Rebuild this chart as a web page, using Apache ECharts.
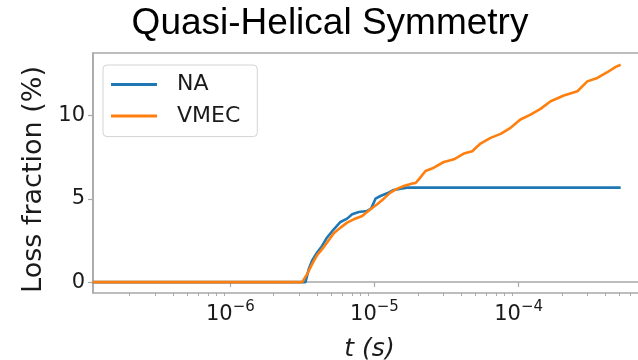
<!DOCTYPE html>
<html>
<head>
<meta charset="utf-8">
<script src="https://cdn.jsdelivr.net/npm/echarts@6/dist/echarts.min.js"></script>
<style>
  html, body { margin: 0; padding: 0; background: #fff; }
  #chart { width: 638px; height: 360px; }
</style>
</head>
<body>
<div id="chart"></div>
<script>
// Particle loss fraction (%) versus time (s), near-axis (NA) and VMEC fields
const seriesNames = ['NA', 'VMEC'];

const timeNA = [1.11e-7, 3.32e-6, 3.50e-6, 3.69e-6, 4.00e-6, 4.33e-6, 4.69e-6, 5.22e-6,
  5.81e-6, 6.46e-6, 7.00e-6, 7.78e-6, 8.89e-6, 9.48e-6, 1.017e-5, 1.10e-5, 1.225e-5,
  1.36e-5, 1.52e-5, 1.69e-5, 5.11e-4];
const lossNA = [0, 0, 0.78, 1.28, 1.78, 2.17, 2.68, 3.17,
  3.61, 3.81, 4.07, 4.21, 4.27, 4.41, 5.01, 5.17, 5.33,
  5.53, 5.61, 5.67, 5.67];

const timeVMEC = [1.11e-7, 3.15e-6, 3.41e-6, 3.69e-6, 4.00e-6, 4.33e-6, 4.69e-6, 5.22e-6,
  5.81e-6, 6.46e-6, 7.18e-6, 8.22e-6, 9.38e-6, 1.045e-5, 1.16e-5, 1.29e-5, 1.44e-5,
  1.60e-5, 1.83e-5, 1.93e-5, 2.03e-5, 2.26e-5, 2.58e-5, 3.03e-5, 3.56e-5, 4.17e-5,
  4.77e-5, 5.44e-5, 6.39e-5, 7.50e-5, 8.80e-5, 1.03e-4, 1.21e-4, 1.42e-4, 1.67e-4,
  2.06e-4, 2.56e-4, 3.00e-4, 3.52e-4, 4.13e-4, 4.72e-4, 5.11e-4];
const lossVMEC = [0, 0, 0.48, 1.08, 1.62, 1.98, 2.38, 2.93,
  3.27, 3.57, 3.77, 3.97, 4.37, 4.67, 5.01, 5.37, 5.61,
  5.77, 5.92, 5.95, 6.17, 6.67, 6.87, 7.21, 7.37, 7.72,
  7.86, 8.32, 8.66, 8.90, 9.26, 9.76, 10.06, 10.40, 10.86,
  11.20, 11.46, 12.05, 12.26, 12.60, 12.92, 13.05];

// Axis ticks
const xMajorTicks = [1e-6, 1e-5, 1e-4];
const yTicks = [0, 5, 10];

// Axis limits
const xMin = 1.114e-7;
const xMax = 7.66e-4;
const yMin = -0.655;
const yMax = 13.755;

// Minor log ticks at 2..9 times each decade
const xMinorTicks = [];
for (let d = -7; d <= -4; d++) {
  for (let k = 2; k <= 9; k++) {
    const v = k * Math.pow(10, d);
    if (v > xMin && v < xMax) xMinorTicks.push(v);
  }
}

const pairs = (xs, ys) => xs.map((x, i) => [x, ys[i]]);

const spine = '#a8a8a8';
const textColor = '#1a1a1a';
const tickFont = 'DejaVu Sans';

const chart = echarts.init(document.getElementById('chart'), null, { renderer: 'canvas' });

chart.setOption({
  animation: false,
  backgroundColor: '#fff',
  title: {
    text: 'Quasi-Helical Symmetry',
    left: 330,
    textAlign: 'center',
    top: 3,
    padding: 0,
    textStyle: {
      fontFamily: 'Liberation Sans',
      fontSize: 37,
      fontWeight: 'normal',
      color: '#000',
      lineHeight: 42
    }
  },
  grid: {
    left: 93,
    top: 53,
    width: 553,
    height: 240,
    outerBoundsMode: 'none',
    containLabel: false,
    show: true,
    borderColor: spine,
    borderWidth: 1.5,
    backgroundColor: 'transparent'
  },
  legend: {
    orient: 'vertical',
    left: 103,
    top: 65,
    data: seriesNames,
    icon: 'rect',
    itemWidth: 46,
    itemHeight: 3,
    itemGap: 9.6,
    padding: [8.5, 17, 9.5, 8],
    borderColor: '#d4d4d4',
    borderWidth: 1,
    borderRadius: 4,
    backgroundColor: 'rgba(255,255,255,0.85)',
    textStyle: {
      fontFamily: tickFont,
      fontSize: 22,
      lineHeight: 22,
      color: textColor,
      padding: [0, 0, 0, 15]
    }
  },
  xAxis: [
    {
      type: 'log',
      logBase: 10,
      min: xMin,
      max: xMax,
      position: 'bottom',
      axisLine: { show: true, lineStyle: { color: spine, width: 1.5 } },
      axisTick: { show: true, customValues: xMajorTicks, length: 5, lineStyle: { color: spine, width: 1.2 } },
      axisLabel: {
        customValues: xMajorTicks,
        margin: 7,
        formatter: (v) => {
          const e = Math.round(Math.log10(v));
          return '{b|10}{e|' + (e < 0 ? '\u2212' + (-e) : e) + '}';
        },
        rich: {
          b: { fontFamily: tickFont, fontSize: 21, lineHeight: 30, color: textColor },
          e: { fontFamily: tickFont, fontSize: 15, lineHeight: 15, verticalAlign: 'top', color: textColor }
        }
      },
      splitLine: { show: false },
      name: 't (s)',
      nameLocation: 'middle',
      nameGap: 44,
      nameTextStyle: {
        fontFamily: tickFont,
        fontStyle: 'italic',
        fontSize: 25,
        color: textColor
      }
    },
    {
      type: 'log',
      logBase: 10,
      min: xMin,
      max: xMax,
      position: 'bottom',
      axisLine: { show: false },
      axisTick: { show: true, customValues: xMinorTicks, length: 3, lineStyle: { color: spine, width: 1 } },
      axisLabel: { show: false },
      splitLine: { show: false }
    }
  ],
  yAxis: {
    type: 'value',
    min: yMin,
    max: yMax,
    axisLine: { show: true, lineStyle: { color: spine, width: 1.5 } },
    axisTick: { show: true, customValues: yTicks, length: 5, lineStyle: { color: spine, width: 1.2 } },
    axisLabel: {
      customValues: yTicks,
      margin: 8,
      fontFamily: tickFont,
      fontSize: 21,
      color: textColor
    },
    splitLine: { show: false },
    name: 'Loss fraction (%)',
    nameLocation: 'middle',
    nameRotate: 90,
    nameGap: 42,
    nameTextStyle: {
      fontFamily: tickFont,
      fontSize: 27,
      color: textColor,
      padding: [0, 13, 0, 0]
    }
  },
  series: [
    {
      name: seriesNames[0],
      type: 'line',
      xAxisIndex: 0,
      data: pairs(timeNA, lossNA),
      showSymbol: false,
      symbol: 'none',
      color: '#1f77b4',
      lineStyle: { width: 2.6, color: '#1f77b4' }
    },
    {
      name: seriesNames[1],
      type: 'line',
      xAxisIndex: 0,
      data: pairs(timeVMEC, lossVMEC),
      showSymbol: false,
      symbol: 'none',
      color: '#ff7f0e',
      lineStyle: { width: 2.6, color: '#ff7f0e' }
    }
  ]
});
</script>
</body>
</html>
